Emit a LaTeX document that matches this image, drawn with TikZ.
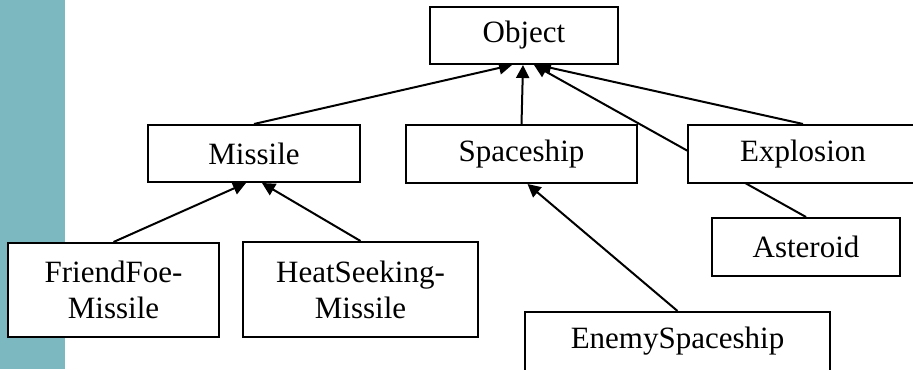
\documentclass[tikz,border=0pt]{standalone}
\usepackage{fontspec}
\setmainfont{Liberation Serif}
\usetikzlibrary{arrows.meta,backgrounds}
\definecolor{barteal}{RGB}{123,184,191}

\tikzset{
  cls/.style={draw, fill=white, line width=1pt, align=center, inner sep=0pt,
    font=\fontsize{15.5}{18}\selectfont},
  isa/.style={line width=1pt, -{Triangle[length=6.5pt,width=6.5pt]}}
}

\begin{document}
\begin{tikzpicture}[x=0.5pt, y=-0.5pt]
    \useasboundingbox (0,0) rectangle (913,369);
    \clip (0,0) rectangle (913,369);

    % Top level
    \node[cls, minimum width=94pt, minimum height=28.5pt] (obj) at (524,35.5) {Object};

    % Second level
    \node[cls, minimum width=106pt, minimum height=28.5pt] (mis) at (254,153.5) {Missile};
    \node[cls, minimum width=115.5pt, minimum height=29pt] (ship) at (521.5,154) {Spaceship};
    \node[cls, minimum width=115pt, minimum height=29pt] (expl) at (803,154) {Explosion};
    \node[cls, minimum width=94pt, minimum height=29pt] (ast) at (806,247) {Asteroid};

    % Third level
    \node[cls, minimum width=105.5pt, minimum height=47pt] (ffm) at (113.5,290) {FriendFoe-\\Missile};
    \node[cls, minimum width=117.5pt, minimum height=47.5pt] (hsm) at (360.5,289.5) {HeatSeeking-\\Missile};
    \node[cls, minimum width=152.5pt, minimum height=29.5pt] (eship) at (677.5,341.5) {EnemySpaceship};

    \begin{pgfonlayer}{background}
    \fill[barteal] (0,0) rectangle (65,369);
    % inheritance arrows
    \draw[isa] (mis.north) -- ([xshift=-6pt]obj.south);
    \draw[isa] (ship.north) -- ([xshift=-0.5pt]obj.south);
    \draw[isa] (expl.north) -- ([xshift=7pt]obj.south);
    \draw[isa] (ast.north) -- ([xshift=5pt]obj.south); % hidden behind Explosion
    \draw[isa] (ffm.north) -- ([xshift=-4pt]mis.south);
    \draw[isa] (hsm.north) -- ([xshift=4pt]mis.south);
    \draw[isa] (eship.north) -- ([xshift=3pt]ship.south);
    \end{pgfonlayer}
\end{tikzpicture}
\end{document}
